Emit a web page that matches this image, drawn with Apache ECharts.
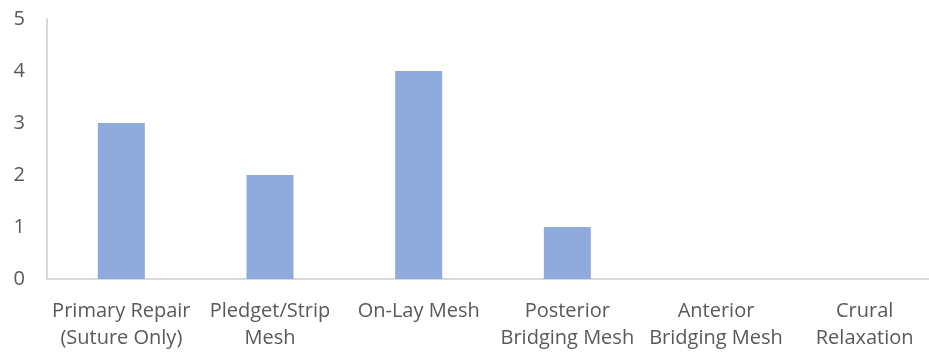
<!DOCTYPE html>
<html>
<head>
<meta charset="utf-8">
<script src="https://cdn.jsdelivr.net/npm/echarts@6/dist/echarts.min.js"></script>
<style>
html,body{margin:0;padding:0;background:#fff;overflow:hidden;}
#chart{width:939px;height:359px;}
</style>
</head>
<body>
<div id="chart"></div>
<script>
var categories = ["Primary Repair\n(Suture Only)", "Pledget/Strip\nMesh", "On-Lay Mesh", "Posterior\nBridging Mesh", "Anterior\nBridging Mesh", "Crural\nRelaxation"];
var values = [3, 2, 4, 1, 0, 0];
var yTicks = [0, 1, 2, 3, 4, 5];

var chart = echarts.init(document.getElementById('chart'), null, {renderer: 'canvas'});
chart.setOption({
  animation: false,
  backgroundColor: '#ffffff',
  grid: {left: 47, right: 0, top: 19, bottom: 80, containLabel: false, outerBoundsMode: 'none'},
  xAxis: {
    type: 'category',
    data: categories,
    axisLine: {show: true, lineStyle: {color: '#d9d9d9', width: 2}},
    axisTick: {show: false},
    axisLabel: {
      interval: 0,
      color: '#595959',
      fontFamily: 'Open Sans',
      fontSize: 20,
      lineHeight: 27,
      margin: 19
    }
  },
  yAxis: {
    type: 'value',
    min: yTicks[0],
    max: yTicks[yTicks.length - 1],
    interval: 1,
    splitLine: {show: false},
    axisLine: {show: true, lineStyle: {color: '#d9d9d9', width: 2}},
    axisTick: {show: false},
    axisLabel: {
      color: '#595959',
      fontFamily: 'Open Sans',
      fontSize: 20,
      margin: 22
    }
  },
  series: [{
    type: 'bar',
    data: values,
    barWidth: 47,
    itemStyle: {color: '#8FAADC'}
  }]
});
</script>
</body>
</html>
